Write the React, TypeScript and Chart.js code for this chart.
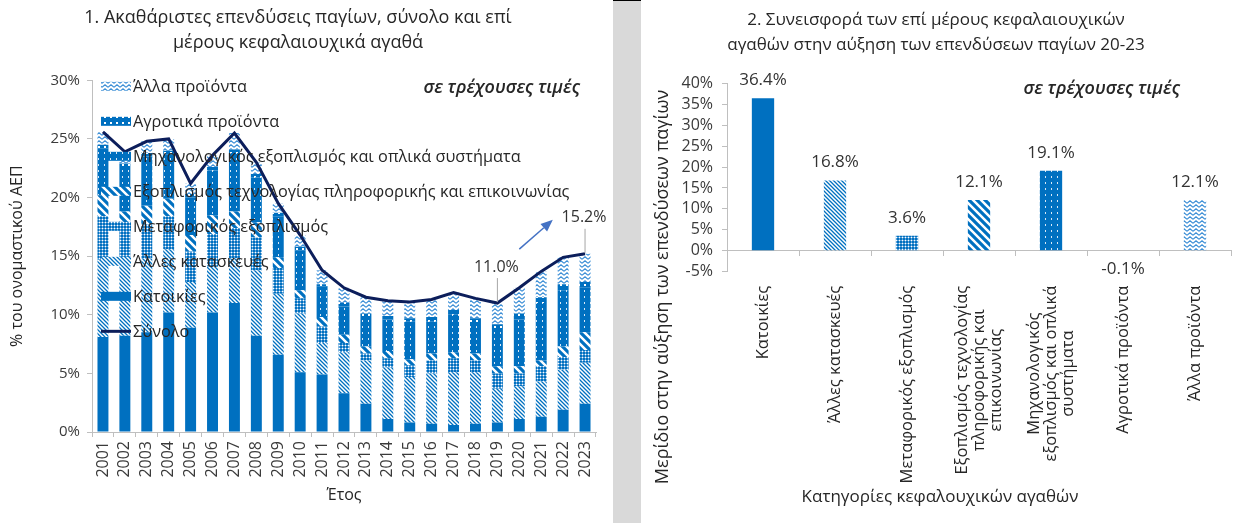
import React, { useEffect, useRef } from "react";
import { Chart, registerables } from "chart.js";

Chart.register(...registerables);

const FONT = "'Open Sans', 'Noto Sans', sans-serif";
const TEXT = "#262626";
const TICK = "#3a3a3a";
const AXIS = "#bfbfbf";
const BLUE = "#0070C0";
const NAVY = "#0C1E5B";

// ---------- Chart 1 data ----------
const years = ["2001","2002","2003","2004","2005","2006","2007","2008","2009","2010","2011","2012","2013","2014","2015","2016","2017","2018","2019","2020","2021","2022","2023"];
const housing = [8.1, 8.2, 8.5, 10.2, 8.9, 10.2, 11.0, 8.2, 6.6, 5.1, 4.9, 3.3, 2.4, 1.1, 0.8, 0.7, 0.6, 0.7, 0.8, 1.1, 1.3, 1.9, 2.4];
const otherConstruction = [6.6, 6.0, 6.3, 5.4, 3.9, 3.9, 3.8, 5.6, 5.2, 5.0, 2.7, 3.5, 3.7, 4.4, 3.9, 4.3, 4.5, 4.4, 2.9, 2.8, 3.0, 3.4, 3.5];
const transport = [3.7, 3.0, 2.9, 2.8, 2.6, 2.8, 2.6, 2.8, 2.2, 1.3, 1.4, 0.8, 0.6, 0.8, 1.0, 1.1, 1.2, 1.0, 1.3, 1.1, 1.3, 1.1, 1.1];
const ict = [1.8, 1.6, 1.6, 1.5, 1.4, 1.6, 1.4, 1.3, 0.9, 0.7, 0.8, 0.7, 0.6, 0.6, 0.5, 0.6, 0.5, 0.6, 0.6, 0.6, 0.5, 0.9, 1.5];
const machinery = [4.0, 3.8, 4.2, 3.8, 3.2, 3.8, 5.0, 3.8, 3.5, 3.4, 2.6, 2.4, 2.5, 2.7, 3.2, 2.7, 3.2, 2.6, 3.1, 4.0, 4.9, 4.8, 3.8];
const agricultural = [0.3, 0.3, 0.3, 0.3, 0.3, 0.3, 0.3, 0.3, 0.3, 0.3, 0.2, 0.3, 0.3, 0.3, 0.3, 0.4, 0.4, 0.4, 0.5, 0.5, 0.5, 0.5, 0.5];
const otherProducts = [1.1, 1.0, 1.0, 1.0, 0.9, 1.0, 1.4, 1.0, 0.8, 1.0, 1.2, 1.3, 1.4, 1.3, 1.4, 1.5, 1.5, 1.7, 1.8, 2.2, 2.2, 2.3, 2.4];
const total = [25.6, 23.9, 24.8, 25.0, 21.2, 23.6, 25.5, 23.0, 19.5, 16.8, 13.8, 12.3, 11.5, 11.2, 11.1, 11.3, 11.9, 11.4, 11.0, 12.3, 13.7, 14.9, 15.2];
const labelledYears = [18, 22];
const leftTitle = ["1. Ακαθάριστες επενδύσεις παγίων, σύνολο και επί", "μέρους κεφαλαιουχικά αγαθά"];
const leftYTitle = "% του ονομαστικού ΑΕΠ";
const leftXTitle = "Έτος";
const note = "σε τρέχουσες τιμές";

// ---------- Chart 2 data ----------
const assetLabels = [
  ["Κατοικίες"],
  ["Άλλες κατασκευές"],
  ["Μεταφορικός εξοπλισμός"],
  ["Εξοπλισμός τεχνολογίας", "πληροφορικής και", "επικοινωνίας"],
  ["Μηχανολογικός", "εξοπλισμός και οπλικά", "συστήματα"],
  ["Αγροτικά προϊόντα"],
  ["Άλλα προϊόντα"],
];
const contributions = [36.4, 16.8, 3.6, 12.1, 19.1, -0.1, 12.1];
const rightTitle = ["2. Συνεισφορά των επί μέρους κεφαλαιουχικών", "αγαθών στην αύξηση των επενδύσεων παγίων 20-23"];
const rightYTitle = "Μερίδιο στην αύξηση των επενδύσεων παγίων";
const rightXTitle = "Κατηγορίες κεφαλουχικών αγαθών";

type Pats = Record<string, CanvasPattern | string>;

function makePatterns(): Pats {
  const mk = (w: number, h: number, draw: (g: CanvasRenderingContext2D) => void) => {
    const c = document.createElement("canvas");
    c.width = w;
    c.height = h;
    const g = c.getContext("2d")!;
    draw(g);
    return g.createPattern(c, "repeat")!;
  };
  const hatch = mk(4, 4, (g) => {
    g.fillStyle = "#ffffff"; g.fillRect(0, 0, 4, 4);
    g.strokeStyle = BLUE; g.lineWidth = 1.3; g.beginPath();
    for (const k of [-4, 0, 4]) { g.moveTo(k - 1, -1); g.lineTo(k + 5, 5); }
    g.stroke();
  });
  const grid = mk(3, 3, (g) => {
    g.fillStyle = "#ffffff"; g.fillRect(0, 0, 3, 3);
    g.fillStyle = BLUE; g.fillRect(1, 1, 2, 2);
    g.fillStyle = "#5fa3d9"; g.fillRect(0, 1, 1, 2); g.fillRect(1, 0, 2, 1);
  });
  const stripes = mk(8, 8, (g) => {
    g.fillStyle = "#ffffff"; g.fillRect(0, 0, 8, 8);
    g.strokeStyle = BLUE; g.lineWidth = 3.2; g.beginPath();
    for (const k of [-8, 0, 8]) { g.moveTo(k - 2, -2); g.lineTo(k + 10, 10); }
    g.stroke();
  });
  const dots = mk(6, 6, (g) => {
    g.fillStyle = BLUE; g.fillRect(0, 0, 6, 6);
    g.fillStyle = "#d8e8f6"; g.fillRect(2, 2, 1, 2);
  });
  const agri = mk(6, 6, (g) => {
    g.fillStyle = BLUE; g.fillRect(0, 0, 6, 6);
    g.fillStyle = "#ffffff"; g.fillRect(2, 2, 2, 2);
  });
  const zigzag = mk(6, 4, (g) => {
    g.fillStyle = "#ffffff"; g.fillRect(0, 0, 6, 4);
    g.strokeStyle = "#3d8fd6"; g.lineWidth = 1.1; g.beginPath();
    g.moveTo(0, 3.2); g.lineTo(3, 0.8); g.lineTo(6, 3.2);
    g.stroke();
  });
  return { solid: BLUE, hatch, grid, stripes, dots, agri, zigzag };
}

function LeftChart() {
  const ref = useRef<HTMLCanvasElement>(null);
  useEffect(() => {
    const p = makePatterns();
    const legendItems: { label: string; fill: any; line?: boolean }[] = [
      { label: "Άλλα προϊόντα", fill: p.zigzag },
      { label: "Αγροτικά προϊόντα", fill: p.agri },
      { label: "Μηχανολογικός εξοπλισμός και οπλικά συστήματα", fill: p.dots },
      { label: "Εξοπλισμός τεχνολογίας πληροφορικής και επικοινωνίας", fill: p.stripes },
      { label: "Μεταφορικός εξοπλισμός", fill: p.grid },
      { label: "Άλλες κατασκευές", fill: p.hatch },
      { label: "Κατοικίες", fill: p.solid },
      { label: "Σύνολο", fill: NAVY, line: true },
    ];
    const overlay = {
      id: "leftOverlay",
      afterDatasetsDraw(chart: any) {
        const ctx: CanvasRenderingContext2D = chart.ctx;
        const ca = chart.chartArea;
        const xs = chart.scales.x;
        const ys = chart.scales.y;
        ctx.save();
        // legend
        ctx.font = `16.3px ${FONT}`;
        ctx.textBaseline = "middle";
        ctx.textAlign = "left";
        legendItems.forEach((it, i) => {
          const x = ca.left + 9;
          const y = ca.top + 6 + 35 * i;
          if (it.line) {
            ctx.strokeStyle = it.fill; ctx.lineWidth = 3;
            ctx.beginPath(); ctx.moveTo(x, y); ctx.lineTo(x + 30, y); ctx.stroke();
          } else {
            ctx.fillStyle = it.fill; ctx.fillRect(x, y - 4.5, 30, 9);
          }
          ctx.fillStyle = TEXT;
          ctx.fillText(it.label, x + 32, y + 1);
        });
        // note
        ctx.font = `italic 600 18px ${FONT}`;
        ctx.textAlign = "right";
        ctx.fillText(note, ca.right - 16, ca.top + 8);
        // line labels
        const meta = chart.getDatasetMeta(0);
        ctx.font = `16px ${FONT}`;
        ctx.textAlign = "center";
        labelledYears.forEach((i) => {
          const pt = meta.data[i];
          const ly = pt.y - 36;
          ctx.strokeStyle = "#a6a6a6"; ctx.lineWidth = 1;
          ctx.beginPath(); ctx.moveTo(pt.x, ly + 11); ctx.lineTo(pt.x, pt.y - 1); ctx.stroke();
          ctx.fillStyle = "#333333";
          ctx.fillText(total[i].toFixed(1) + "%", pt.x - 1, ly);
        });
        // arrow
        const x1 = xs.getPixelForValue(19.0), y1 = ys.getPixelForValue(15.6);
        const x2 = xs.getPixelForValue(20.53), y2 = ys.getPixelForValue(18.1);
        const ang = Math.atan2(y2 - y1, x2 - x1);
        const hl = 12, hw = 5;
        const bx = x2 - hl * Math.cos(ang), by = y2 - hl * Math.sin(ang);
        ctx.strokeStyle = "#4472C4"; ctx.fillStyle = "#4472C4"; ctx.lineWidth = 1.5;
        ctx.beginPath(); ctx.moveTo(x1, y1); ctx.lineTo(bx, by); ctx.stroke();
        ctx.beginPath();
        ctx.moveTo(x2, y2);
        ctx.lineTo(bx + hw * Math.sin(ang), by - hw * Math.cos(ang));
        ctx.lineTo(bx - hw * Math.sin(ang), by + hw * Math.cos(ang));
        ctx.closePath(); ctx.fill();
        ctx.restore();
      },
    };
    const bar = (label: string, data: number[], bg: any) => ({
      type: "bar" as const, label, data, backgroundColor: bg, borderWidth: 0,
      barPercentage: 0.5, categoryPercentage: 1,
    });
    const chart = new Chart(ref.current!, {
      type: "bar",
      data: {
        labels: years,
        datasets: [
          { type: "line", label: "Σύνολο", data: total, borderColor: NAVY, backgroundColor: NAVY, borderWidth: 3, pointRadius: 0, tension: 0, fill: false } as any,
          bar("Κατοικίες", housing, p.solid),
          bar("Άλλες κατασκευές", otherConstruction, p.hatch),
          bar("Μεταφορικός εξοπλισμός", transport, p.grid),
          bar("Εξοπλισμός τεχνολογίας πληροφορικής και επικοινωνίας", ict, p.stripes),
          bar("Μηχανολογικός εξοπλισμός και οπλικά συστήματα", machinery, p.dots),
          bar("Αγροτικά προϊόντα", agricultural, p.agri),
          bar("Άλλα προϊόντα", otherProducts, p.zigzag),
        ],
      },
      options: {
        animation: false,
        responsive: false,
        layout: { padding: { left: 0, right: 17, top: 0, bottom: 0 } },
        plugins: {
          legend: { display: false },
          tooltip: { enabled: false },
          title: {
            display: true, text: leftTitle, color: TEXT,
            font: { family: FONT, size: 18, weight: "normal", lineHeight: 1.37 },
            padding: { top: 6, bottom: 25 },
          },
        },
        scales: {
          x: {
            stacked: true,
            ticks: { maxRotation: 90, minRotation: 90, autoSkip: false, font: { family: FONT, size: 16 }, color: TICK, padding: 4 },
            grid: { display: true, drawOnChartArea: false, offset: true, tickLength: 5, color: AXIS },
            border: { display: true, color: AXIS },
            title: { display: true, text: leftXTitle, color: TEXT, font: { family: FONT, size: 16 }, padding: { top: 0, bottom: 18 } },
            afterFit: (s: any) => { s.height = 91; },
          },
          y: {
            stacked: true, min: 0, max: 30,
            ticks: { stepSize: 5, autoSkip: false, callback: (v: any) => v + "%", font: { family: FONT, size: 15 }, color: TICK, padding: 7 },
            grid: { display: true, drawOnChartArea: false, tickLength: 5, color: AXIS },
            border: { display: true, color: AXIS },
            title: { display: true, text: leftYTitle, color: TEXT, font: { family: FONT, size: 16 }, padding: { top: 8, bottom: 0 } },
            afterFit: (s: any) => { s.width = 92; },
          },
        },
      } as any,
      plugins: [overlay],
    });
    return () => chart.destroy();
  }, []);
  return <canvas ref={ref} width={613} height={523} style={{ display: "block" }} />;
}

function RightChart() {
  const ref = useRef<HTMLCanvasElement>(null);
  useEffect(() => {
    const p = makePatterns();
    const names = assetLabels.map((l) => l.join(" "));
    const overlay = {
      id: "rightOverlay",
      afterDraw(chart: any) {
        const ctx: CanvasRenderingContext2D = chart.ctx;
        const ca = chart.chartArea;
        const xs = chart.scales.x;
        ctx.save();
        // data labels
        const meta = chart.getDatasetMeta(0);
        ctx.font = `17px ${FONT}`;
        ctx.fillStyle = "#333333";
        ctx.textAlign = "center";
        ctx.textBaseline = "middle";
        meta.data.forEach((el: any, i: number) => {
          const v = contributions[i];
          const y = v >= 0 ? el.y - 18 : el.y + 18;
          ctx.fillText(v.toFixed(1) + "%", el.x, y);
        });
        // category labels (rotated, block top-aligned, lines centred)
        ctx.font = `16.5px ${FONT}`;
        ctx.fillStyle = TEXT;
        const top = ca.bottom + 14;
        const lh = 17;
        assetLabels.forEach((lines, i) => {
          const px = xs.getPixelForValue(i);
          const w = Math.max(...lines.map((l) => ctx.measureText(l).width));
          lines.forEach((ln, j) => {
            const cx = px + (j - (lines.length - 1) / 2) * lh;
            ctx.save();
            ctx.translate(cx, top + w / 2);
            ctx.rotate(-Math.PI / 2);
            ctx.textAlign = "center";
            ctx.fillText(ln, 0, 0);
            ctx.restore();
          });
        });
        // axis titles
        ctx.font = `18px ${FONT}`;
        ctx.save();
        ctx.translate(22, 287);
        ctx.rotate(-Math.PI / 2);
        ctx.textAlign = "center";
        ctx.fillText(rightYTitle, 0, 0);
        ctx.restore();
        ctx.font = `17px ${FONT}`;
        ctx.textAlign = "center";
        ctx.fillText(rightXTitle, 299, 497);
        // note
        ctx.font = `italic 600 18px ${FONT}`;
        ctx.textAlign = "right";
        ctx.fillText(note, ca.right - 51, ca.top + 6);
        ctx.restore();
      },
    };
    const chart = new Chart(ref.current!, {
      type: "bar",
      data: {
        labels: names,
        datasets: [
          {
            label: "Συνεισφορά", data: contributions,
            backgroundColor: [p.solid, p.hatch, p.grid, p.stripes, p.dots, p.agri, p.zigzag] as any,
            borderWidth: 0, barPercentage: 0.31, categoryPercentage: 1,
          },
        ],
      },
      options: {
        animation: false,
        responsive: false,
        layout: { padding: { left: 0, right: 10, top: 0, bottom: 0 } },
        plugins: {
          legend: { display: false },
          tooltip: { enabled: false },
          title: {
            display: true, text: rightTitle, color: TEXT,
            font: { family: FONT, size: 17, weight: "normal", lineHeight: 1.45 },
            padding: { top: 8, bottom: 26 },
          },
        },
        scales: {
          x: {
            type: "category", position: "bottom",
            ticks: { display: false },
            grid: { display: false, drawTicks: false },
            border: { display: false },
            afterFit: (s: any) => { s.height = 251.3; },
          },
          x2: {
            type: "category", position: { y: 0 }, labels: names,
            ticks: { display: false },
            grid: { display: true, drawOnChartArea: false, offset: true, tickLength: 5, color: AXIS },
            border: { display: true, color: AXIS },
          },
          y: {
            min: -5, max: 40,
            ticks: { stepSize: 5, autoSkip: false, callback: (v: any) => v + "%", font: { family: FONT, size: 16, lineHeight: 1 }, color: TICK, padding: 9 },
            grid: { display: true, drawOnChartArea: false, tickLength: 5, color: AXIS },
            border: { display: true, color: AXIS },
            afterFit: (s: any) => { s.width = 86; },
          },
        },
      } as any,
      plugins: [overlay],
    });
    return () => chart.destroy();
  }, []);
  return <canvas ref={ref} width={600} height={523} style={{ display: "block" }} />;
}

export default function App() {
  return (
    <div style={{ position: "absolute", left: 0, top: 0, width: 1241, height: 523, background: "#ffffff", overflow: "hidden" }}>
      <div style={{ position: "absolute", left: 0, top: 0 }}>
        <LeftChart />
      </div>
      <div style={{ position: "absolute", left: 613, top: 0, width: 28, height: 523, background: "#d9d9d9", borderTop: "1px solid #000" }} />
      <div style={{ position: "absolute", left: 641, top: 0 }}>
        <RightChart />
      </div>
    </div>
  );
}
